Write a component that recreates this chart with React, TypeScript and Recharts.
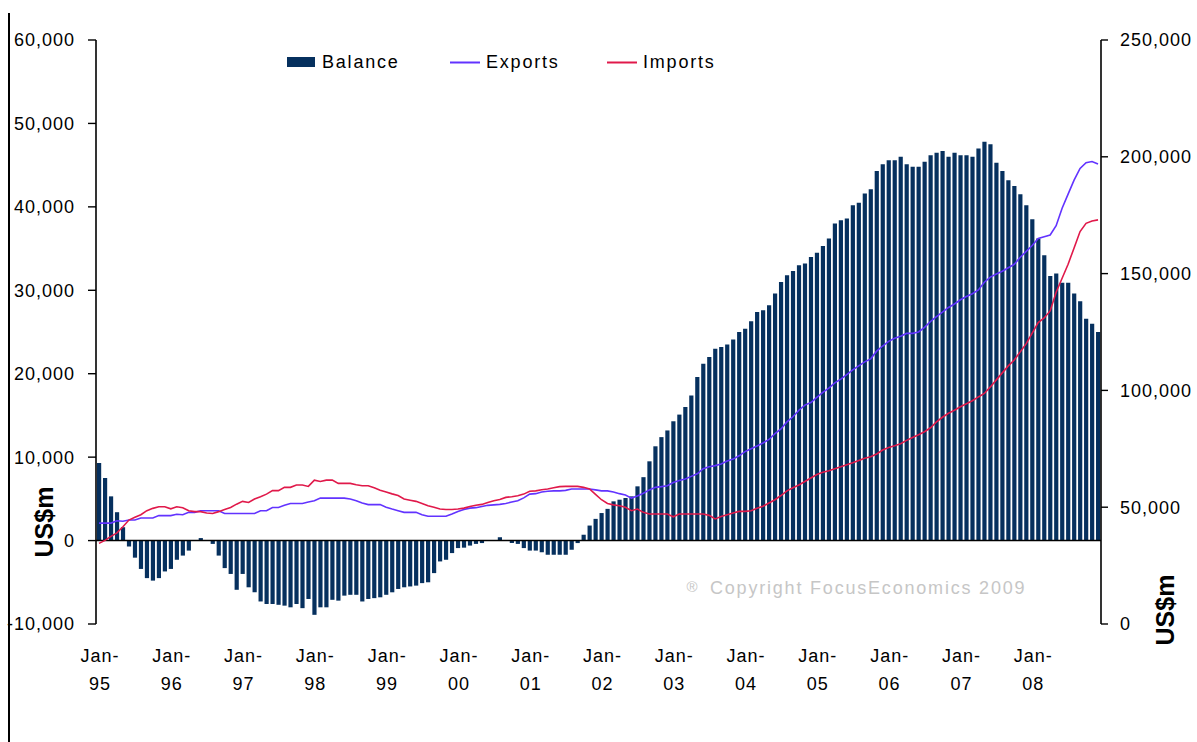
import React from 'react';
import { ComposedChart, Bar, Line, XAxis, YAxis, ReferenceLine, Legend } from 'recharts';

const MONTHS = ['Jan', 'Feb', 'Mar', 'Apr', 'May', 'Jun', 'Jul', 'Aug', 'Sep', 'Oct', 'Nov', 'Dec'];
const YEARS = ['95', '96', '97', '98', '99', '00', '01', '02', '03', '04', '05', '06', '07', '08'];

const BALANCE = [
  9300, 7500, 5300, 3400, 1600, -700, -2050, -3400, -4500, -4800, -4500, -3700,
  -3400, -2300, -1800, -1200, 0, 300, 0, -400, -1800, -3300, -4000, -5900,
  -4000, -5600, -6200, -7300, -7600, -7600, -7700, -7800, -8000, -7600, -8100, -7000,
  -8900, -8000, -8000, -7100, -7200, -6600, -6500, -6500, -7300, -7000, -6900, -6800,
  -6500, -6200, -5800, -5600, -5500, -5400, -5100, -5000, -3900, -2500, -2300, -1500,
  -900, -850, -600, -400, -300, -50, 0, 400, 0, -300, -400, -900,
  -1200, -1200, -1400, -1700, -1700, -1700, -1700, -1100, -300, 700, 1800, 2600,
  3300, 3800, 4700, 4900, 5100, 5300, 6500, 7600, 9500, 11300, 12400, 13200,
  14300, 15100, 16000, 17400, 19600, 21200, 22000, 23000, 23200, 23500, 24100, 25000,
  25400, 26300, 27400, 27600, 28200, 29600, 31000, 31800, 32300, 33000, 33200, 34000,
  34500, 35300, 36200, 38000, 38400, 38600, 40200, 40500, 41600, 42100, 44300, 45100,
  45600, 45600, 46000, 45100, 44800, 44800, 45400, 46200, 46500, 46700, 46000, 46500,
  46200, 46200, 46000, 47000, 47800, 47500, 45300, 44300, 43200, 42500, 41500, 40200,
  38500, 36200, 34200, 31700, 32000, 30900, 30900, 29600, 28700, 26600, 26000, 25000,
];

const EXPORTS = [
  43200, 43200, 43200, 44200, 44000, 44500, 44500, 45400, 45400, 45400, 46400, 46400,
  46400, 47000, 46800, 47800, 47800, 48500, 48500, 48500, 48500, 47300, 47300, 47300,
  47300, 47300, 47300, 48500, 48500, 49900, 49900, 50800, 51600, 51600, 51600, 52200,
  52800, 53900, 53900, 53900, 53900, 53900, 53500, 52800, 51800, 51100, 51100, 51100,
  50000, 49200, 48500, 47800, 47800, 47800, 46800, 46100, 46100, 46100, 46100, 47100,
  48200, 49000, 49600, 49800, 50300, 50800, 51000, 51200, 51600, 52200, 52800, 54000,
  55600, 55800, 56500, 56800, 57000, 57000, 57200, 57800, 57800, 57800, 57800, 57400,
  57000, 57000, 56500, 55800, 55200, 53900, 54800, 56000, 57400, 58500, 58800, 59200,
  60600, 61400, 62100, 63200, 64300, 66500, 67300, 67800, 68500, 69800, 70600, 72000,
  73800, 75000, 76200, 77500, 79000, 81500, 83500, 86500, 88700, 91500, 93700, 94800,
  97000, 99200, 101000, 103200, 104800, 106800, 108800, 110500, 112200, 113500, 116800, 119000,
  121000, 122300, 123200, 124400, 124400, 125000, 127000, 129500, 131600, 133500, 135500, 137000,
  138800, 140200, 141400, 143000, 146300, 148500, 149800, 151000, 152500, 154000, 157000, 159500,
  162000, 165000, 165800, 166500, 170500, 178000, 184000, 190000, 195000, 197500, 198000, 196900,
];

const IMPORTS = [
  34500, 35800, 37500, 39000, 41600, 44500, 45700, 46800, 48500, 49500, 50200, 50200,
  49300, 50200, 49800, 48500, 48100, 48100, 47500, 47300, 48100, 49000, 49900, 51300,
  52500, 52000, 53500, 54500, 55600, 57100, 57100, 58500, 58500, 59500, 59500, 58900,
  61600, 61000, 61600, 61600, 60200, 60200, 60200, 59600, 59200, 59200, 58300, 57300,
  56500, 55700, 55000, 53500, 53000, 52500, 51600, 50600, 50000, 49200, 49000, 49000,
  49200, 49600, 50300, 50800, 51200, 52000, 52800, 53300, 54200, 54500, 54900, 55600,
  56800, 57000, 57500, 57800, 58300, 58800, 58900, 58900, 58900, 58500, 57800, 55500,
  53200, 51600, 51000, 50600, 50000, 48500, 49200, 47800, 47100, 47100, 47100, 47100,
  45900, 47100, 47100, 47100, 47100, 47100, 46500, 45000, 46000, 46800, 47500, 48200,
  48200, 48500, 49500, 50400, 51800, 53200, 55000, 57000, 58300, 59500, 61000, 62500,
  64000, 65000, 65600, 66500, 67300, 68200, 69000, 70000, 71000, 71600, 72800, 74500,
  75600, 76300, 77200, 78600, 79800, 81000, 82300, 84000, 86500, 88500, 90200, 91500,
  93000, 94300, 95600, 97200, 98700, 101500, 104500, 107500, 110500, 113000, 116500, 120000,
  124500, 129000, 131000, 134000, 142000, 148000, 154000, 161000, 168000, 171500, 172500, 173000,
];

const LEFT_TICKS = [-10000, 0, 10000, 20000, 30000, 40000, 50000, 60000];
const RIGHT_TICKS = [0, 50000, 100000, 150000, 200000, 250000];
const SERIES_NAMES = ['Balance', 'Exports', 'Imports'];
const UNIT = 'US$m';
const COPYRIGHT = 'Copyright FocusEconomics 2009';

const data = YEARS.flatMap((y, yi) =>
  MONTHS.map((m, mi) => {
    const i = yi * 12 + mi;
    return { month: `${m}-${y}`, balance: BALANCE[i], exports: EXPORTS[i], imports: IMPORTS[i] };
  })
);

const FONT = '"Liberation Sans", Arial, Helvetica, sans-serif';
const NAVY = '#06305e';
const BLUE = '#6233ff';
const RED = '#e0194a';

const fmt = (v: number) => v.toLocaleString('en-US');

const XTick = (props: any) => {
  const { x, y, payload } = props;
  const [m, yr] = String(payload.value).split('-');
  const style = { fontFamily: FONT, fontSize: 18, letterSpacing: 1, fill: '#000' } as any;
  return (
    <g>
      <text x={x + 1} y={y + 38} textAnchor="middle" style={style}>{m + '-'}</text>
      <text x={x + 1} y={y + 66} textAnchor="middle" style={style}>{yr}</text>
    </g>
  );
};

const LegendContent = () => (
  <svg width={1197} height={80} style={{ display: 'block' }}>
    <rect x={287} y={57} width={28} height={10} fill={NAVY} />
    <text x={322} y={68} style={{ fontFamily: FONT, fontSize: 18, letterSpacing: 1.8 }} fill="#000">{SERIES_NAMES[0]}</text>
    <line x1={450} x2={480} y1={62.5} y2={62.5} stroke={BLUE} strokeWidth={2} />
    <text x={486} y={68} style={{ fontFamily: FONT, fontSize: 18, letterSpacing: 1.8 }} fill="#000">{SERIES_NAMES[1]}</text>
    <line x1={607} x2={637} y1={62.5} y2={62.5} stroke={RED} strokeWidth={2} />
    <text x={643} y={68} style={{ fontFamily: FONT, fontSize: 18, letterSpacing: 1.8 }} fill="#000">{SERIES_NAMES[2]}</text>
  </svg>
);

const tickStyle = { fontFamily: FONT, fontSize: 18, letterSpacing: 1, fill: '#000' };

export default function App() {
  return (
    <div style={{ position: 'absolute', left: 0, top: 0, width: 1197, height: 742, background: '#fff' }}>
      <ComposedChart
        width={1197}
        height={742}
        data={data}
        margin={{ top: 40, right: 0, bottom: 38, left: 0 }}
        barCategoryGap={1.6}
      >
        <XAxis
          dataKey="month"
          interval={11}
          axisLine={false}
          tickLine={false}
          tickSize={0}
          tickMargin={0}
          height={80}
          tick={<XTick />}
        />
        <YAxis
          yAxisId="left"
          orientation="left"
          width={96}
          domain={[-10000, 60000]}
          ticks={LEFT_TICKS}
          interval={0}
          tickFormatter={fmt}
          axisLine={{ stroke: '#000', strokeWidth: 1.6 }}
          tickLine={{ stroke: '#000', strokeWidth: 1.4 }}
          tickSize={8}
          tickMargin={13}
          tick={tickStyle}
        />
        <YAxis
          yAxisId="right"
          orientation="right"
          width={96}
          domain={[0, 250000]}
          ticks={RIGHT_TICKS}
          interval={0}
          tickFormatter={fmt}
          axisLine={{ stroke: '#000', strokeWidth: 1.6 }}
          tickLine={{ stroke: '#000', strokeWidth: 1.4 }}
          tickSize={7}
          tickMargin={12}
          tick={tickStyle}
        />
        <Legend
          layout="horizontal"
          verticalAlign="middle"
          align="center"
          wrapperStyle={{ position: 'absolute', left: 0, top: 0, width: 1197, height: 80 }}
          content={<LegendContent />}
        />
        <Bar yAxisId="left" dataKey="balance" name={SERIES_NAMES[0]} fill={NAVY} barSize={4.2} isAnimationActive={false} />
        <ReferenceLine yAxisId="left" y={0} stroke="#000" strokeWidth={1.6} />
        <Line yAxisId="right" type="linear" dataKey="exports" name={SERIES_NAMES[1]} stroke={BLUE} strokeWidth={1.6} dot={false} isAnimationActive={false} />
        <Line yAxisId="right" type="linear" dataKey="imports" name={SERIES_NAMES[2]} stroke={RED} strokeWidth={1.6} dot={false} isAnimationActive={false} />
      </ComposedChart>
      <svg width={1197} height={742} style={{ position: 'absolute', left: 0, top: 0, pointerEvents: 'none' }}>
        <line x1={9} x2={9} y1={13} y2={742} stroke="#000" strokeWidth={2} />
        <text
          transform="translate(53,522) rotate(-90)"
          textAnchor="middle"
          style={{ fontFamily: FONT, fontSize: 25, fontWeight: 700 }}
          fill="#000"
        >{UNIT}</text>
        <text
          transform="translate(1174,610) rotate(-90)"
          textAnchor="middle"
          style={{ fontFamily: FONT, fontSize: 25, fontWeight: 700 }}
          fill="#000"
        >{UNIT}</text>
        <text x={692} y={592} textAnchor="middle" style={{ fontFamily: FONT, fontSize: 15 }} fill="#c6c6c6">®</text>
        <text x={710} y={594} style={{ fontFamily: FONT, fontSize: 18, letterSpacing: 1.8 }} fill="#c6c6c6">{COPYRIGHT}</text>
      </svg>
    </div>
  );
}
